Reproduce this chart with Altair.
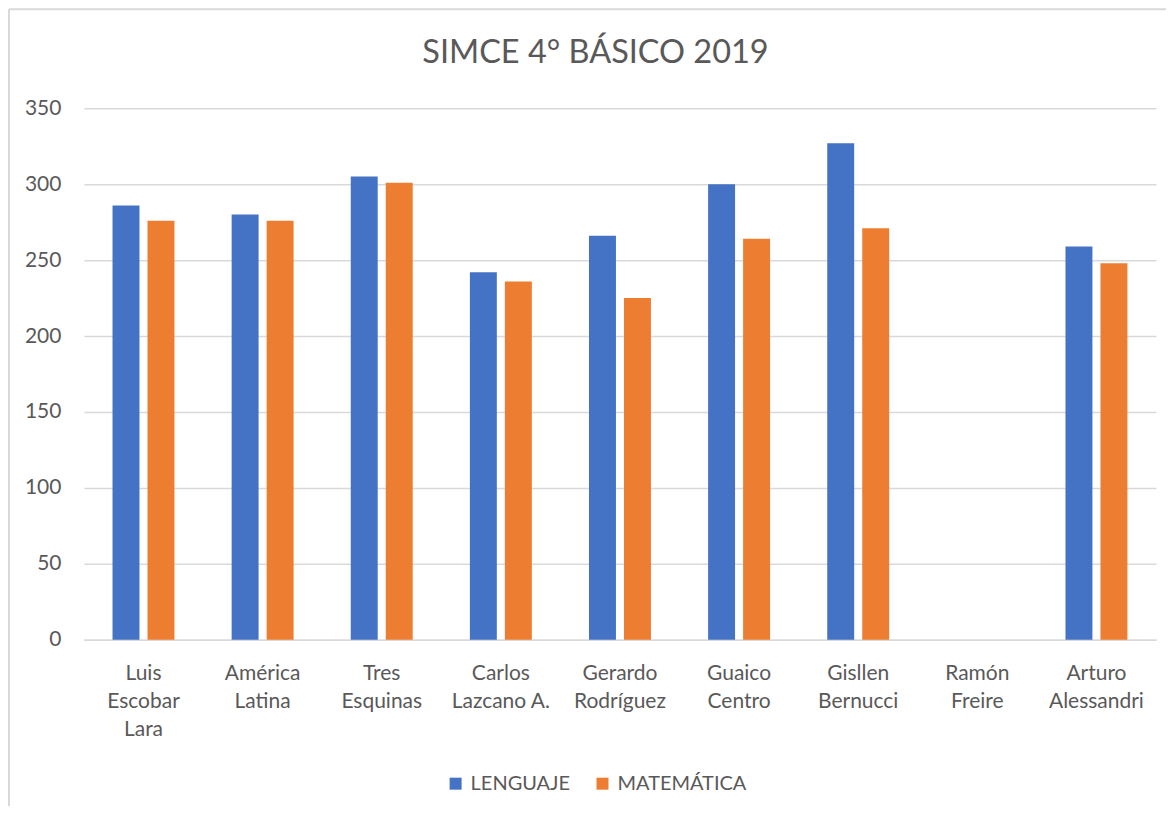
import altair as alt
import pandas as pd

categories = ["Luis\nEscobar\nLara", "América\nLatina", "Tres\nEsquinas", "Carlos\nLazcano A.",
              "Gerardo\nRodríguez", "Guaico\nCentro", "Gisllen\nBernucci",
              "Ramón\nFreire", "Arturo\nAlessandri"]
series = ["LENGUAJE", "MATEMÁTICA"]
lenguaje = [286, 280, 305, 242, 266, 300, 327, None, 259]
matematica = [276, 276, 301, 236, 225, 264, 271, None, 248]
colors = ["#4472C4", "#ED7D31"]
y_ticks = [0, 50, 100, 150, 200, 250, 300, 350]
title_text = "SIMCE 4° BÁSICO 2019"

rows = []
for c, l, m in zip(categories, lenguaje, matematica):
    rows.append({"escuela": c, "serie": series[0], "valor": l})
    rows.append({"escuela": c, "serie": series[1], "valor": m})
df = pd.DataFrame(rows)

FONT = "Lato"
TXT = "#595959"
W, H = 1073, 532

bars = alt.Chart(df).mark_bar().encode(
    x=alt.X("escuela:N", sort=categories,
            scale=alt.Scale(domain=categories, paddingInner=0.48, paddingOuter=0.24),
            axis=alt.Axis(title=None, labelAngle=0, labelExpr="split(datum.label, '\\n')",
                          labelFont=FONT, labelFontSize=21, labelColor=TXT,
                          labelLineHeight=28, labelPadding=23, ticks=False,
                          domainColor="#d9d9d9", domainWidth=1.5)),
    xOffset=alt.XOffset("serie:N", sort=series,
                        scale=alt.Scale(domain=series, paddingInner=0.23, paddingOuter=0)),
    y=alt.Y("valor:Q", scale=alt.Scale(domain=[0, 350], nice=False),
            axis=alt.Axis(title=None, values=y_ticks, labelFont=FONT, labelFontSize=21,
                          labelColor=TXT, labelPadding=23, ticks=False, domain=False,
                          gridColor="#d9d9d9", gridWidth=1.5)),
    color=alt.Color("serie:N", sort=series,
                    scale=alt.Scale(domain=series, range=colors),
                    legend=alt.Legend(title=None, orient="none", legendX=362, legendY=666,
                                      direction="horizontal", symbolType="square",
                                      symbolSize=144, symbolStrokeWidth=0,
                                      labelFont=FONT, labelFontSize=20, labelColor=TXT,
                                      columnPadding=22, labelOffset=5)),
)

title = alt.Chart(pd.DataFrame({"t": [title_text]})).mark_text(
    font=FONT, fontSize=32.5, color=TXT, align="center", baseline="middle"
).encode(x=alt.value(512), y=alt.value(-55), text="t:N")

border = alt.Chart(pd.DataFrame({"k": [0]})).mark_rule(color="#d9d9d9", strokeWidth=2).encode(
    x=alt.value(-75), x2=alt.value(-75), y=alt.value(-99), y2=alt.value(720))
border_top = alt.Chart(pd.DataFrame({"k": [0]})).mark_rule(color="#d9d9d9", strokeWidth=2).encode(
    x=alt.value(-75), x2=alt.value(1100), y=alt.value(-99), y2=alt.value(-99))

chart = alt.layer(bars, title, border, border_top).properties(
    width=W, height=H,
    autosize=alt.AutoSizeParams(type="none"),
    padding={"left": 76, "top": 100, "right": 10, "bottom": 166},
).configure_view(stroke=None)

chart.save("out.html", embed_options={"renderer": "svg", "actions": False})
